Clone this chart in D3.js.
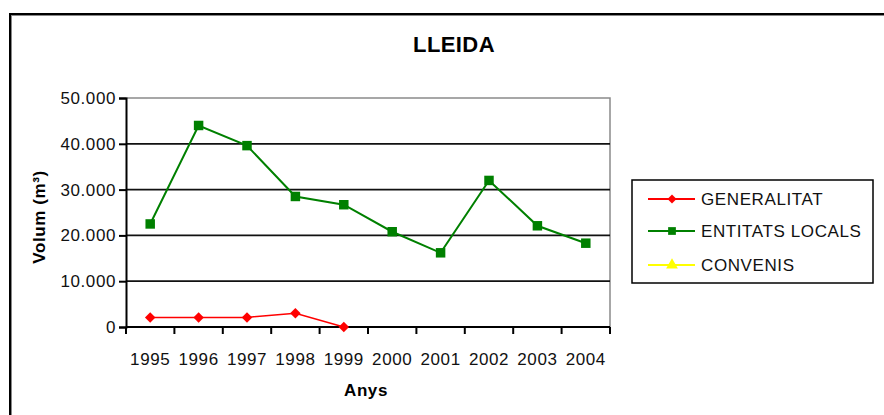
<!DOCTYPE html>
<html><head><meta charset="utf-8">
<script src="https://cdn.jsdelivr.net/npm/d3@7"></script>
<style>html,body{margin:0;padding:0;background:#fff;overflow:hidden}svg{display:block;font-family:"Liberation Sans",Arial,sans-serif}</style>
</head><body>
<svg id="c" width="884" height="415"></svg>
<script>
const years = ["1995","1996","1997","1998","1999","2000","2001","2002","2003","2004"];
const generalitat = [2100, 2100, 2100, 3000, 0, null, null, null, null, null];
const entitatsLocals = [22500, 44000, 39600, 28500, 26700, 20800, 16200, 32000, 22100, 18300];
const convenis = [null, null, null, null, null, null, null, null, null, null];
const yTicks = [0, 10000, 20000, 30000, 40000, 50000];
const seriesNames = ["GENERALITAT", "ENTITATS LOCALS", "CONVENIS"];
const seriesColors = ["#ff0000", "#008000", "#ffff00"];
const title = "LLEIDA", xTitle = "Anys", yTitle = "Volum (m³)";

const svg = d3.select("#c");
const L = 126, R = 610, T = 98, B = 327;
const x = d3.scaleBand().domain(years).range([L, R]);
const y = d3.scaleLinear().domain([0, 50000]).range([B, T]);
const loc = d3.formatLocale({decimal: ",", thousands: ".", grouping: [3], currency: ["", ""]});
const fmt = loc.format(",");
const LS = "0.6px";

// outer frame
svg.append("rect").attr("x", 10).attr("y", 14).attr("width", 900).attr("height", 420)
  .attr("fill", "none").attr("stroke", "#000").attr("stroke-width", 2);
svg.append("line").attr("x1", 11).attr("x2", 900).attr("y1", 15.5).attr("y2", 15.5).attr("stroke", "#888").attr("stroke-width", 1);
svg.append("line").attr("x1", 11.5).attr("x2", 11.5).attr("y1", 15).attr("y2", 415).attr("stroke", "#888").attr("stroke-width", 1);

// title
svg.append("text").attr("x", 454).attr("y", 52).attr("text-anchor", "middle")
  .attr("font-weight", "bold").attr("font-size", 22).attr("letter-spacing", "0.4px").text(title);

// plot border (gray top/right)
svg.append("path").attr("d", `M${L},${T}H${R}V${B}`).attr("fill", "none").attr("stroke", "#8a8a8a").attr("stroke-width", 1.5);

// gridlines
svg.append("g").selectAll("line").data(yTicks.filter(d => d > 0 && d < 50000)).join("line")
  .attr("x1", L).attr("x2", R).attr("y1", d => y(d)).attr("y2", d => y(d))
  .attr("stroke", "#111").attr("stroke-width", 1.8);

// y axis
const ya = svg.append("g").attr("transform", `translate(${L},0)`)
  .call(d3.axisLeft(y).tickValues(yTicks).tickFormat(d => fmt(d)).tickSize(7).tickPadding(3));
ya.select(".domain").attr("stroke", "#000").attr("stroke-width", 2);
ya.selectAll(".tick line").attr("stroke", "#000").attr("stroke-width", 2);
ya.selectAll("text").attr("font-size", 17).attr("fill", "#111").attr("letter-spacing", LS)
  .attr("font-family", "Liberation Sans, Arial, sans-serif");

// x axis
const xa = svg.append("g").attr("transform", `translate(0,${B})`)
  .call(d3.axisBottom(x).tickSize(0).tickPadding(26));
xa.select(".domain").remove();
xa.selectAll("text").attr("font-size", 17).attr("fill", "#111").attr("letter-spacing", LS)
  .attr("font-family", "Liberation Sans, Arial, sans-serif");
svg.append("line").attr("x1", L).attr("x2", R).attr("y1", B).attr("y2", B).attr("stroke", "#000").attr("stroke-width", 2);
const bounds = years.map(d => x(d)).concat([R]);
svg.append("g").selectAll("line").data(bounds).join("line")
  .attr("x1", d => d).attr("x2", d => d).attr("y1", B).attr("y2", B + 7)
  .attr("stroke", "#000").attr("stroke-width", 2);

// axis titles
svg.append("text").attr("x", 366).attr("y", 396).attr("text-anchor", "middle")
  .attr("font-weight", "bold").attr("font-size", 17).attr("letter-spacing", LS).text(xTitle);
svg.append("text").attr("transform", "translate(45,217) rotate(-90)").attr("text-anchor", "middle")
  .attr("font-weight", "bold").attr("font-size", 17).attr("letter-spacing", LS).text(yTitle);

const cx = d => x(d) + x.bandwidth() / 2;
const line = d3.line().defined(d => d[1] != null).x(d => cx(d[0])).y(d => y(d[1]));
const data = [generalitat, entitatsLocals, convenis];
const sym = [d3.symbolSquare, d3.symbolSquare, d3.symbolTriangle];
const rot = [45, 0, 0];
const symSize = [55, 90, 60];
const legSize = [40, 60, 60];
const lw = [1.5, 2, 1.5];
data.forEach((vals, i) => {
  const pts = years.map((yr, j) => [yr, vals[j]]);
  svg.append("path").datum(pts).attr("d", line).attr("fill", "none")
    .attr("stroke", seriesColors[i]).attr("stroke-width", lw[i]);
  svg.append("g").selectAll("path").data(pts.filter(p => p[1] != null)).join("path")
    .attr("transform", p => `translate(${cx(p[0])},${y(p[1])}) rotate(${rot[i]})`)
    .attr("d", d3.symbol().type(sym[i]).size(symSize[i])).attr("fill", seriesColors[i]);
});

// legend
svg.append("rect").attr("x", 632).attr("y", 180).attr("width", 241).attr("height", 103)
  .attr("fill", "#fff").attr("stroke", "#000").attr("stroke-width", 1.5);
const ly = [199, 231, 265];
seriesNames.forEach((n, i) => {
  const g = svg.append("g");
  g.append("line").attr("x1", 648).attr("x2", 695).attr("y1", ly[i]).attr("y2", ly[i])
    .attr("stroke", seriesColors[i]).attr("stroke-width", 2);
  g.append("path").attr("transform", `translate(672,${ly[i]}) rotate(${rot[i]})`)
    .attr("d", d3.symbol().type(sym[i]).size(legSize[i])).attr("fill", seriesColors[i]);
  g.append("text").attr("x", 701).attr("y", ly[i] + 6).attr("font-size", 17).attr("fill", "#111")
    .attr("letter-spacing", LS).text(n);
});
</script>
</body></html>
